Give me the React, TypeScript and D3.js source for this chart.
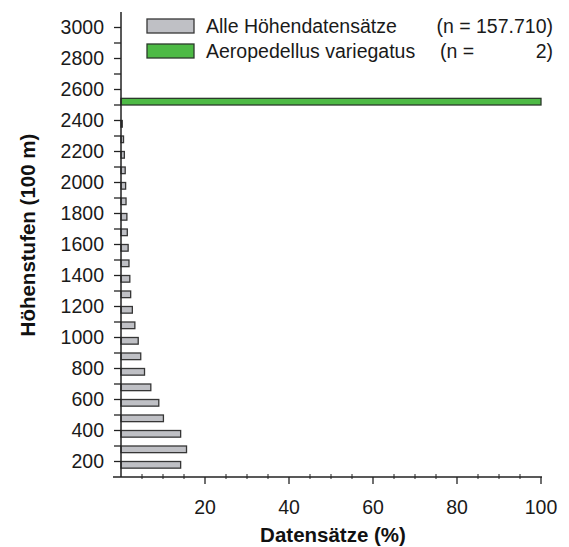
import * as d3 from "d3";

// bins of 100 m, lower edge
const binStarts = d3.range(100, 3001, 100);
const allRecords = [
  14.2, 15.6, 14.2, 10.1, 9.0, 7.1, 5.6, 4.7, 4.1, 3.3, 2.7, 2.3, 2.1, 1.9, 1.7,
  1.5, 1.4, 1.2, 1.1, 1.0, 0.8, 0.6, 0.3, 0, 0, 0, 0, 0, 0, 0,
];
const speciesRecords = [
  0, 0, 0, 0, 0, 0, 0, 0, 0, 0, 0, 0, 0, 0, 0,
  0, 0, 0, 0, 0, 0, 0, 0, 0, 100, 0, 0, 0, 0, 0,
];
const yTickLabels = d3.range(200, 3001, 200);
const xTickLabels = [20, 40, 60, 80, 100];
const legendItems = [
  { key: "all", label: "Alle Höhendatensätze", n: "(n = 157.710)", split: false },
  { key: "species", label: "Aeropedellus variegatus", n: "2)", split: true },
];

const W = 569;
const H = 547;
const FONT = "'Liberation Sans', Arial, Helvetica, sans-serif";
const colors: Record<string, { fill: string; stroke: string }> = {
  all: { fill: "#bfc0c5", stroke: "#363636" },
  species: { fill: "#4dba45", stroke: "#2b3a2b" },
};

export default function App() {
  const x = d3.scaleLinear().domain([0, 100]).range([121, 541]);
  const y = d3.scaleLinear().domain([100, 3100]).range([477, 12]);
  // position of the two series inside each 100 m bin (species low, all high)
  const sub = d3
    .scaleBand<string>()
    .domain(["species", "all"])
    .range([0, 100])
    .paddingInner(0.25);

  const bars = binStarts.flatMap((lo, i) =>
    [
      { key: "all", v: allRecords[i] },
      { key: "species", v: speciesRecords[i] },
    ]
      .filter(d => d.v > 0)
      .map(d => {
        const b0 = lo + (sub(d.key) ?? 0);
        const b1 = b0 + sub.bandwidth();
        return { ...d, lo, y0: y(b1), y1: y(b0) };
      })
  );

  const axisColor = "#222";
  const x0 = x(0);
  const yBase = y(100);

  return (
    <>
      <style>{`body{margin:0;background:#fff}`}</style>
      <svg width={W} height={H} style={{ display: "block", fontFamily: FONT }}>
        <rect width={W} height={H} fill="#fff" />

        {bars.map(b => (
          <rect
            key={b.key + b.lo}
            x={x0}
            y={b.y0}
            width={x(b.v) - x0}
            height={b.y1 - b.y0}
            fill={colors[b.key].fill}
            stroke={colors[b.key].stroke}
            strokeWidth={1.3}
          />
        ))}

        {/* y axis */}
        <line x1={x0} x2={x0} y1={y(3100)} y2={yBase} stroke={axisColor} strokeWidth={1.5} />
        {d3.range(200, 3001, 100).map(v => (
          <line key={v} x1={x0 - 7} x2={x0} y1={y(v)} y2={y(v)} stroke={axisColor} strokeWidth={1.3} />
        ))}
        {yTickLabels.map(v => (
          <text key={v} x={104} y={y(v)} dy="0.35em" textAnchor="end" fontSize={19.5} fill="#1a1a1a">
            {v}
          </text>
        ))}

        {/* x axis */}
        <line x1={x0 - 8} x2={x(100) + 1} y1={yBase} y2={yBase} stroke={axisColor} strokeWidth={1.5} />
        {d3.range(5, 100, 5)
          .filter(v => v % 20 !== 0)
          .map(v => (
            <line key={v} x1={x(v)} x2={x(v)} y1={yBase - 3} y2={yBase + 2} stroke={axisColor} strokeWidth={1} />
          ))}
        {xTickLabels.map(v => (
          <g key={v}>
            <line x1={x(v)} x2={x(v)} y1={yBase} y2={yBase + 7} stroke={axisColor} strokeWidth={1.3} />
            <text x={x(v)} y={507} dy="0.35em" textAnchor="middle" fontSize={19.5} fill="#1a1a1a">
              {v}
            </text>
          </g>
        ))}

        {/* axis titles */}
        <text x={333} y={535} dy="0.35em" textAnchor="middle" fontSize={20.5} fontWeight="bold" fill="#111">
          Datensätze (%)
        </text>
        <text
          transform={`translate(28,235) rotate(-90)`}
          dy="0.35em"
          textAnchor="middle"
          fontSize={20.5}
          fontWeight="bold"
          fill="#111"
        >
          Höhenstufen (100 m)
        </text>

        {/* legend */}
        {legendItems.map((d, i) => {
          const cy = 26 + i * 25;
          return (
            <g key={d.key}>
              <rect
                x={147}
                y={cy - 7}
                width={47}
                height={14}
                fill={colors[d.key].fill}
                stroke={colors[d.key].stroke}
                strokeWidth={1.3}
              />
              <text x={206} y={cy} dy="0.35em" fontSize={19.5} fill="#1a1a1a">
                {d.label}
              </text>
              {d.split && (
                <text x={440} y={cy} dy="0.35em" fontSize={19.5} fill="#1a1a1a">
                  (n =
                </text>
              )}
              <text x={553} y={cy} dy="0.35em" textAnchor="end" fontSize={19.5} fill="#1a1a1a">
                {d.n}
              </text>
            </g>
          );
        })}
      </svg>
    </>
  );
}
